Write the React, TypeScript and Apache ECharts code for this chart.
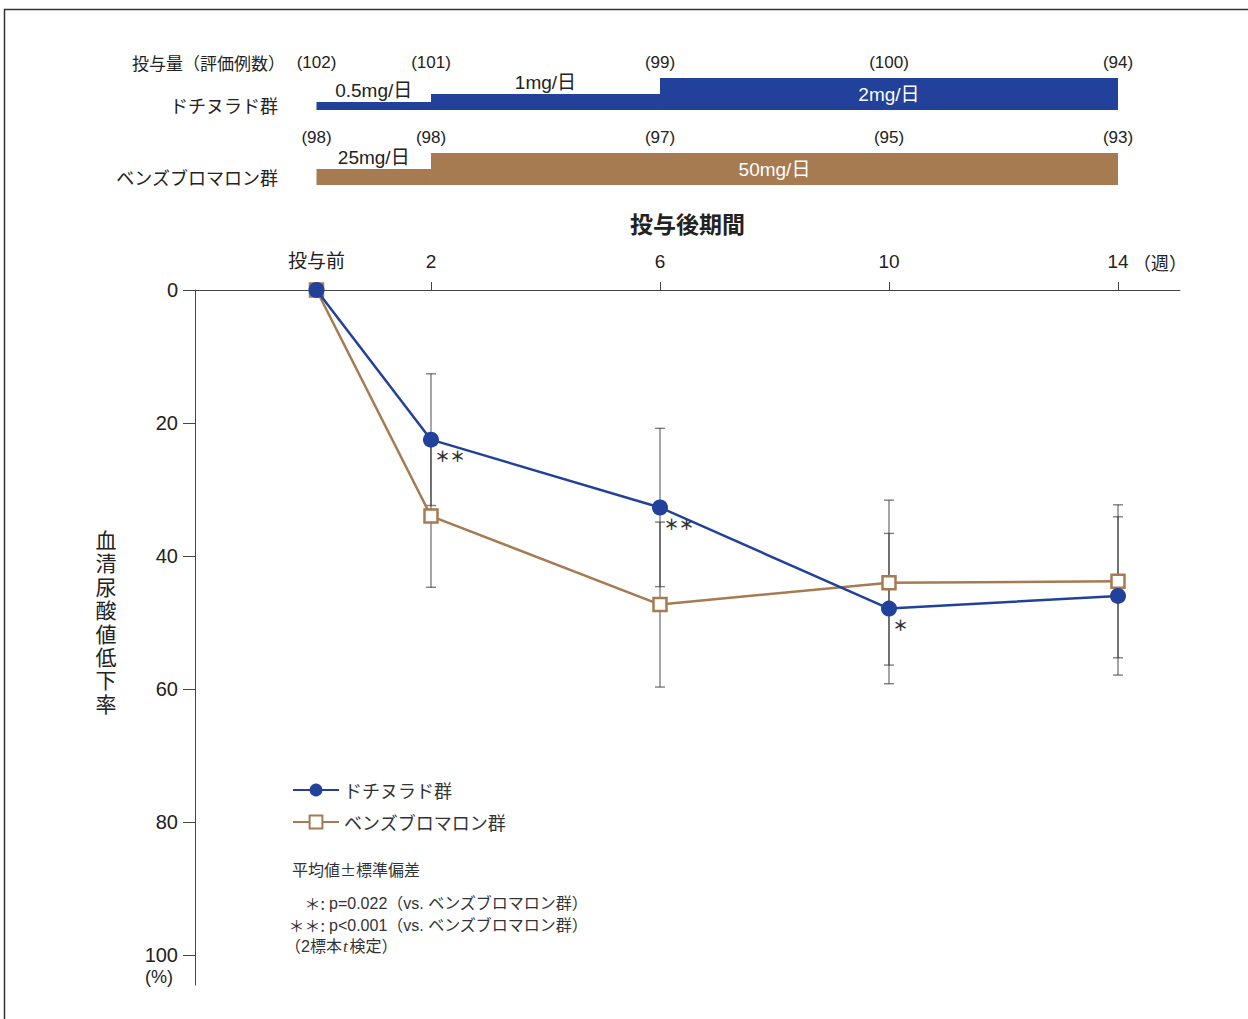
import React, { useEffect, useRef } from 'react';
import * as echarts from 'echarts';

const FONT = '"Liberation Sans", "Noto Sans CJK JP", sans-serif';
const JFONT = '"Noto Sans CJK JP", "Noto Sans", sans-serif';

// main chart data
const weeks = [0, 2, 6, 10, 14];
const weekLabels = ['投与前', '2', '6', '10', '14'];
const dotiName = 'ドチヌラド群';
const benzName = 'ベンズブロマロン群';
const dotiMean = [0, 22.5, 32.7, 47.9, 46.0];
const dotiSD = [0, 9.9, 11.9, 11.3, 11.9];
const benzMean = [0, 34.0, 47.3, 44.0, 43.8];
const benzSD = [0, 10.7, 12.4, 12.4, 11.5];
const dotiSig = ['', '＊＊', '＊＊', '＊', ''];
const yTicks = [0, 20, 40, 60, 80, 100];
const yAxisTitle = '血清尿酸値低下率';

// dosing schedule data
const groupNames = [dotiName, benzName];
const dotiN = [102, 101, 99, 100, 94];
const benzN = [98, 98, 97, 95, 93];
const dotiSegStart = [0, 2, 6];
const dotiSegEnd = [2, 6, 14];
const dotiDose = [0.5, 1, 2];
const dotiDoseLabel = ['0.5mg/日', '1mg/日', '2mg/日'];
const benzSegStart = [0, 2];
const benzSegEnd = [2, 14];
const benzDose = [25, 50];
const benzDoseLabel = ['25mg/日', '50mg/日'];

const BLUE = '#21419a';
const BROWN = '#a77b51';
const TEXT = '#222';

export default function App() {
  const ref = useRef<HTMLDivElement>(null);
  useEffect(() => {
    if (!ref.current) return;
    const chart = echarts.init(ref.current, null, { renderer: 'svg' });

    const errData: number[][] = [];
    weeks.forEach((w, i) => {
      if (dotiSD[i] > 0) errData.push([w, dotiMean[i] - dotiSD[i], dotiMean[i] + dotiSD[i]]);
      if (benzSD[i] > 0) errData.push([w, benzMean[i] - benzSD[i], benzMean[i] + benzSD[i]]);
    });

    const segData: any[] = [];
    dotiSegStart.forEach((s, i) =>
      segData.push([s, dotiSegEnd[i], 0, dotiDose[i], Math.max(...dotiDose), dotiDoseLabel[i]])
    );
    benzSegStart.forEach((s, i) =>
      segData.push([s, benzSegEnd[i], 1, benzDose[i], Math.max(...benzDose), benzDoseLabel[i]])
    );
    const countData: any[] = [];
    weeks.forEach((w, i) => countData.push([w, 0, dotiN[i]]));
    weeks.forEach((w, i) => countData.push([w, 1, benzN[i]]));

    const xMin = -2.122;
    const xMax = 15.083;

    const yTitleTexts = yAxisTitle.split('').map((ch, i) => ({
      type: 'text',
      x: 106,
      y: 539 + i * 23.4,
      style: {
        text: ch, fontSize: 21, lineHeight: 22, fill: TEXT, fontFamily: JFONT,
        align: 'center', verticalAlign: 'middle',
      },
    }));

    const option: any = {
      animation: false,
      textStyle: { fontFamily: FONT },
      grid: [
        { left: 195, right: 68, top: 290, bottom: 34 },
        { left: 195, right: 68, top: 35, height: 150 },
      ],
      xAxis: [
        {
          type: 'value',
          gridIndex: 0,
          position: 'top',
          min: xMin,
          max: xMax,
          name: '投与後期間',
          nameLocation: 'middle',
          nameGap: 56,
          nameTextStyle: { fontSize: 23, color: TEXT, fontFamily: JFONT, fontWeight: 'bold' },
          axisLine: { show: true, onZero: false, lineStyle: { color: '#444', width: 1 } },
          axisTick: { show: true, customValues: weeks, length: 8, lineStyle: { color: '#444' } },
          axisLabel: {
            customValues: weeks,
            formatter: (v: number) => weekLabels[weeks.indexOf(v)] ?? '',
            fontSize: 19,
            color: TEXT,
            margin: 19,
            fontFamily: FONT,
          },
          splitLine: { show: false },
        },
        {
          type: 'value',
          gridIndex: 1,
          min: xMin,
          max: xMax,
          show: false,
        },
      ],
      yAxis: [
        {
          type: 'value',
          gridIndex: 0,
          inverse: true,
          min: 0,
          max: 104.5,
          axisLine: { show: true, onZero: false, lineStyle: { color: '#444', width: 1 } },
          axisTick: { show: true, customValues: yTicks, length: 12, lineStyle: { color: '#444' } },
          axisLabel: { customValues: yTicks, fontSize: 20, color: TEXT, margin: 17, fontFamily: FONT },
          splitLine: { show: false },
        },
        {
          type: 'category',
          gridIndex: 1,
          inverse: true,
          data: groupNames,
          show: false,
        },
      ],
      legend: {
        left: 287,
        top: 776,
        orient: 'vertical',
        itemWidth: 46,
        itemHeight: 16,
        itemGap: 14,
        textStyle: { fontSize: 18, color: '#333', fontFamily: JFONT },
        data: [dotiName, benzName],
      },
      series: [
        {
          type: 'custom',
          name: 'err',
          xAxisIndex: 0,
          yAxisIndex: 0,
          z: 1,
          encode: { x: 0, y: [1, 2] },
          data: errData,
          renderItem: (params: any, api: any) => {
            const x = api.value(0);
            const p1 = api.coord([x, api.value(1)]);
            const p2 = api.coord([x, api.value(2)]);
            const w = 5;
            const st = { stroke: '#2a2a2a', lineWidth: 1.4, opacity: 0.6 };
            return {
              type: 'group',
              children: [
                { type: 'line', shape: { x1: p1[0], y1: p1[1], x2: p2[0], y2: p2[1] }, style: st },
                { type: 'line', shape: { x1: p1[0] - w, y1: p1[1], x2: p1[0] + w, y2: p1[1] }, style: st },
                { type: 'line', shape: { x1: p2[0] - w, y1: p2[1], x2: p2[0] + w, y2: p2[1] }, style: st },
              ],
            };
          },
        },
        {
          type: 'line',
          name: benzName,
          z: 2,
          data: weeks.map((w, i) => [w, benzMean[i]]),
          symbol: 'rect',
          symbolSize: 13,
          lineStyle: { color: BROWN, width: 2.5 },
          itemStyle: { color: '#fff', borderColor: BROWN, borderWidth: 2.5 },
          emphasis: { disabled: true },
        },
        {
          type: 'line',
          name: dotiName,
          z: 3,
          data: weeks.map((w, i) => ({
            value: [w, dotiMean[i]],
            label: {
              show: dotiSig[i] !== '',
              formatter: dotiSig[i],
            },
          })),
          label: {
            position: [12, 24],
            align: 'left',
            verticalAlign: 'middle',
            fontSize: 15,
            fontWeight: 'bold',
            color: '#333',
            fontFamily: JFONT,
          },
          symbol: 'circle',
          symbolSize: 16,
          lineStyle: { color: BLUE, width: 2.5 },
          itemStyle: { color: BLUE },
          emphasis: { disabled: true },
        },
        {
          type: 'custom',
          name: 'dose',
          xAxisIndex: 1,
          yAxisIndex: 1,
          encode: { x: [0, 1], y: 2 },
          data: segData,
          renderItem: (params: any, api: any) => {
            const row = api.value(2);
            const s = api.coord([api.value(0), row]);
            const e = api.coord([api.value(1), row]);
            const band = api.size([0, 1])[1];
            const base = s[1] + band / 2;
            const h = (api.value(3) / api.value(4)) * 32;
            const label = segData[params.dataIndex][5];
            const inside = h > 24;
            const cx = (s[0] + e[0]) / 2;
            return {
              type: 'group',
              children: [
                {
                  type: 'rect',
                  shape: { x: s[0], y: base - h, width: e[0] - s[0], height: h },
                  style: { fill: row === 0 ? BLUE : BROWN },
                },
                {
                  type: 'text',
                  x: cx,
                  y: inside ? base - h / 2 : base - h - 12,
                  style: {
                    text: label,
                    fill: inside ? '#fff' : TEXT,
                    fontSize: 19,
                    fontFamily: FONT,
                    align: 'center',
                    verticalAlign: 'middle',
                  },
                },
              ],
            };
          },
        },
        {
          type: 'custom',
          name: 'counts',
          xAxisIndex: 1,
          yAxisIndex: 1,
          encode: { x: 0, y: 1 },
          data: countData,
          renderItem: (params: any, api: any) => {
            const p = api.coord([api.value(0), api.value(1)]);
            const band = api.size([0, 1])[1];
            const base = p[1] + band / 2;
            return {
              type: 'text',
              x: p[0],
              y: base - 48,
              style: {
                text: '(' + api.value(2) + ')',
                fill: TEXT,
                fontSize: 17,
                fontFamily: FONT,
                align: 'center',
                verticalAlign: 'middle',
              },
            };
          },
        },
      ],
      graphic: [
        {
          type: 'polyline',
          shape: { points: [[4.5, 1019], [4.5, 9.5], [1248, 9.5]] },
          style: { stroke: '#333', lineWidth: 1.5, fill: 'none' },
        },
        {
          type: 'text', x: 285, y: 62,
          style: { text: '投与量（評価例数）', fontSize: 17, fill: TEXT, fontFamily: JFONT, align: 'right', verticalAlign: 'middle' },
        },
        {
          type: 'text', x: 278, y: 105,
          style: { text: dotiName, fontSize: 18, fill: TEXT, fontFamily: JFONT, align: 'right', verticalAlign: 'middle' },
        },
        {
          type: 'text', x: 278, y: 177,
          style: { text: benzName, fontSize: 18, fill: TEXT, fontFamily: JFONT, align: 'right', verticalAlign: 'middle' },
        },
        {
          type: 'text', x: 1133, y: 262,
          style: { text: '（週）', fontSize: 18, fill: TEXT, fontFamily: JFONT, align: 'left', verticalAlign: 'middle' },
        },
        ...yTitleTexts,
        {
          type: 'text', x: 159, y: 977,
          style: { text: '(%)', fontSize: 18, fill: TEXT, fontFamily: FONT, align: 'center', verticalAlign: 'middle' },
        },
        {
          type: 'text', x: 292, y: 869,
          style: { text: '平均値±標準偏差', fontSize: 16, fill: '#333', fontFamily: JFONT, align: 'left', verticalAlign: 'middle' },
        },
        {
          type: 'text', x: 325, y: 903,
          style: { text: '＊:', fontSize: 16, fill: '#333', fontFamily: JFONT, align: 'right', verticalAlign: 'middle' },
        },
        {
          type: 'text', x: 329, y: 903,
          style: { text: 'p=0.022（vs. ベンズブロマロン群）', fontSize: 16, fill: '#333', fontFamily: FONT, align: 'left', verticalAlign: 'middle' },
        },
        {
          type: 'text', x: 325, y: 925,
          style: { text: '＊＊:', fontSize: 16, fill: '#333', fontFamily: JFONT, align: 'right', verticalAlign: 'middle' },
        },
        {
          type: 'text', x: 329, y: 925,
          style: { text: 'p<0.001（vs. ベンズブロマロン群）', fontSize: 16, fill: '#333', fontFamily: FONT, align: 'left', verticalAlign: 'middle' },
        },
        {
          type: 'text', x: 285, y: 946,
          style: {
            text: '{a|（2標本}{b|t}{a|検定）}',
            fill: '#333',
            fontFamily: FONT,
            align: 'left',
            verticalAlign: 'middle',
            rich: {
              a: { fontSize: 16, fill: '#333', fontFamily: FONT },
              b: { fontSize: 17, fill: '#333', fontStyle: 'italic', fontFamily: '"Liberation Serif", serif', padding: [0, 2, 0, 1] },
            },
          },
        },
      ],
    };
    chart.setOption(option);
    return () => chart.dispose();
  }, []);

  return (
    <div
      ref={ref}
      style={{ position: 'absolute', left: 0, top: 0, width: 1248, height: 1019, background: '#fff' }}
    />
  );
}
